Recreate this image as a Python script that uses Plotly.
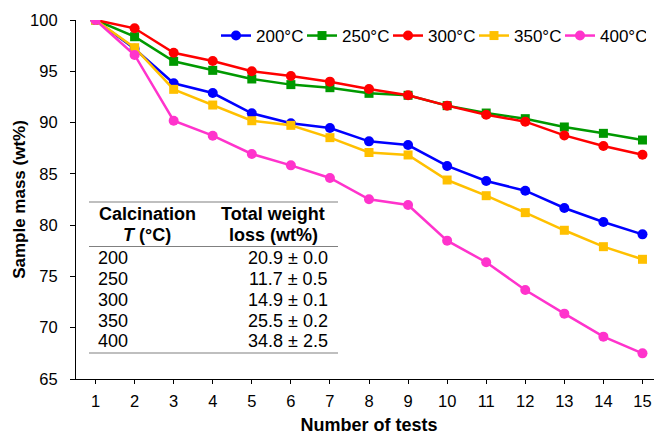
import plotly.graph_objects as go

tests = list(range(1, 16))
series_names = ["200°C", "250°C", "300°C", "350°C", "400°C"]
mass_200 = [100, 97.2, 93.83, 92.88, 90.9, 89.93, 89.47, 88.17, 87.81, 85.77, 84.3, 83.36, 81.67, 80.31, 79.1]
mass_250 = [100, 98.37, 95.97, 95.09, 94.25, 93.7, 93.4, 92.85, 92.66, 91.65, 90.93, 90.38, 89.57, 88.95, 88.3]
mass_300 = [100, 99.19, 96.81, 96.0, 95.0, 94.54, 93.99, 93.27, 92.66, 91.65, 90.77, 90.09, 88.75, 87.72, 86.87]
mass_350 = [100, 97.3, 93.24, 91.71, 90.18, 89.73, 88.53, 87.08, 86.84, 84.4, 82.87, 81.22, 79.5, 77.9, 76.67]
mass_400 = [100, 96.59, 90.18, 88.72, 86.94, 85.83, 84.6, 82.52, 81.96, 78.49, 76.38, 73.68, 71.37, 69.13, 67.5]

table_temps = ["200", "250", "300", "350", "400"]
table_loss = ["20.9 ± 0.0", "11.7 ± 0.5", "14.9 ± 0.1", "25.5 ± 0.2", "34.8 ± 2.5"]

colors = ["#0000FF", "#009900", "#FF0000", "#FFC000", "#FF33CC"]
symbols = ["circle", "square", "circle", "square", "circle"]
all_series = [mass_200, mass_250, mass_300, mass_350, mass_400]

# The page body adds an 8px margin, so the figure is sized to fit the window.
OFF = 8
W, H = 662 - OFF, 437 - OFF
# plot area in page pixels
PX0, PX1, PY0, PY1 = 76, 662, 20, 379
L, R, T, B = PX0 - OFF, 0, PY0 - OFF, H - (PY1 - OFF)
PW, PH = PX1 - PX0, PY1 - PY0


def px2x(px):
    return (px - PX0) / PW


def py2y(py):
    return (PY1 - py) / PH


fig = go.Figure()
for name, vals, col, sym in zip(series_names, all_series, colors, symbols):
    fig.add_trace(go.Scatter(
        x=tests, y=vals, name=name, mode="lines+markers",
        line=dict(color=col, width=2.5),
        marker=dict(color=col, symbol=sym, size=10 if sym == "circle" else 9),
    ))

font_family = "Liberation Sans, Arial, sans-serif"

annotations = []
annotations.append(dict(text="<b>Calcination</b>", x=px2x(147), y=py2y(214)))
annotations.append(dict(text="<b><i>T</i> (°C)</b>", x=px2x(147), y=py2y(235)))
annotations.append(dict(text="<b>Total weight</b>", x=px2x(273), y=py2y(214)))
annotations.append(dict(text="<b>loss (wt%)</b>", x=px2x(273), y=py2y(235)))
row_y = [258, 279, 300, 320.5, 341]
for t, l, yy in zip(table_temps, table_loss, row_y):
    annotations.append(dict(text=t, x=px2x(96), y=py2y(yy), xanchor="left"))
    annotations.append(dict(text=l, x=px2x(330), y=py2y(yy), xanchor="right"))
for a in annotations:
    a.setdefault("xanchor", "center")
    a.update(xref="paper", yref="paper", yanchor="middle", showarrow=False,
             font=dict(size=18, color="black", family=font_family))

shapes = []
for yy in [202, 246.5, 353]:
    shapes.append(dict(type="line", xref="paper", yref="paper",
                       x0=px2x(89), x1=px2x(338), y0=py2y(yy), y1=py2y(yy),
                       line=dict(color="#808080", width=1.2)))

fig.update_layout(
    width=W, height=H,
    margin=dict(l=L, r=R, t=T, b=B, autoexpand=False),
    plot_bgcolor="white", paper_bgcolor="white",
    font=dict(family=font_family, size=16, color="black"),
    showlegend=True,
    legend=dict(orientation="h", x=px2x(216), xanchor="left", y=py2y(36), yanchor="middle",
                font=dict(size=17), bgcolor="rgba(0,0,0,0)", itemwidth=30,
                entrywidth=41, entrywidthmode="pixels"),
    annotations=annotations,
    shapes=shapes,
    xaxis=dict(range=[0.5, 15.5], tickvals=tests, showgrid=False, zeroline=False,
               showline=True, linecolor="black", linewidth=1.2,
               ticks="outside", ticklen=4, tickcolor="black",
               tickfont=dict(size=16.5), ticklabelstandoff=3,
               title=dict(text="<b>Number of tests</b>", font=dict(size=18), standoff=9)),
    yaxis=dict(range=[65, 100], dtick=5, showgrid=False, zeroline=False,
               showline=True, linecolor="black", linewidth=1.2,
               ticks="outside", ticklen=5, tickcolor="black",
               tickfont=dict(size=16.5), ticklabelstandoff=9,
               title=dict(text="<b>Sample mass (wt%)</b>", font=dict(size=17), standoff=0)),
)

fig.write_html("out.html")
